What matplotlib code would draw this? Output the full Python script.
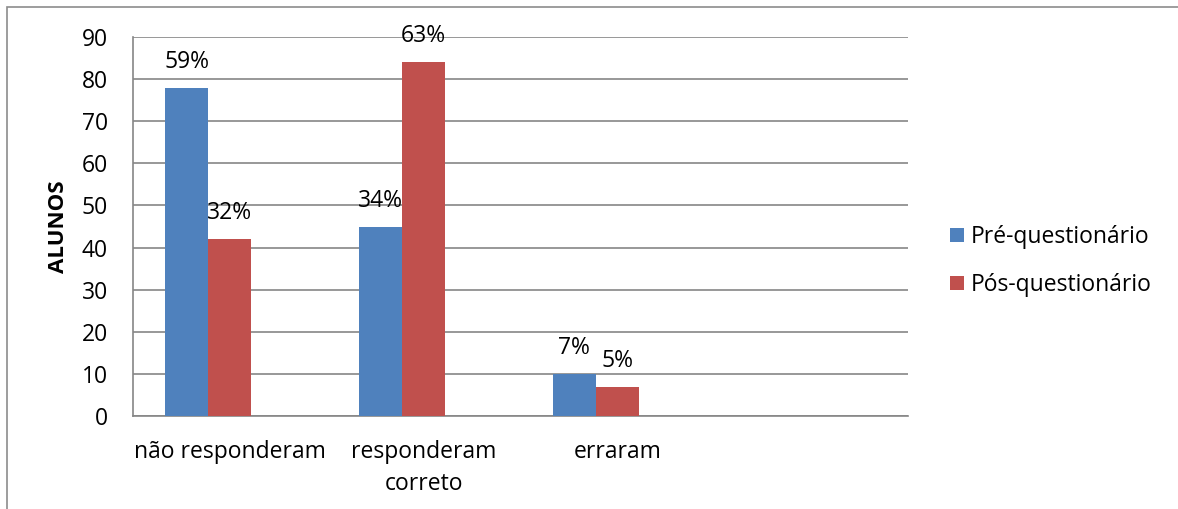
import matplotlib.pyplot as plt
import numpy as np
from matplotlib.patches import Rectangle

plt.rcParams['font.family'] = ['Open Sans', 'DejaVu Sans']

categories = ['não responderam', 'responderam\ncorreto', 'erraram', '']
pre = [78, 45, 10]
pos = [42, 84, 7]
pre_labels = ['59%', '34%', '7%']
pos_labels = ['32%', '63%', '5%']
series_names = ['Pré-questionário', 'Pós-questionário']

blue = '#4F81BD'
red = '#C0504D'
grid_col = '#868686'
fs = 16.5

fig = plt.figure(figsize=(11.78, 5.09), dpi=100)
ax = fig.add_axes([133 / 1178, 1 - 416 / 509, (908 - 133) / 1178, (416 - 37) / 509])

# outer chart border (cut off at right/bottom like the screenshot)
fig.patches.append(Rectangle((7 / 1178, -0.1), 1.2, 1 - 7 / 509 + 0.1,
                             transform=fig.transFigure, fill=False,
                             edgecolor='#8c8c8c', linewidth=1.2))

x = np.arange(len(pre))
w = 0.222
# excel leaves room for a third (empty) series, so the pair sits left of centre
b1 = ax.bar(x - w, pre, w, color=blue, label=series_names[0], zorder=3)
b2 = ax.bar(x, pos, w, color=red, label=series_names[1], zorder=3)

for bars, labs in ((b1, pre_labels), (b2, pos_labels)):
    for r, t in zip(bars, labs):
        ax.annotate(t, (r.get_x() + r.get_width() / 2, r.get_height()),
                    xytext=(0, 10), textcoords='offset points',
                    ha='center', va='bottom', fontsize=fs)

ax.set_xlim(-0.5, 3.5)
ax.set_ylim(0, 90)
ax.set_yticks(range(0, 91, 10))
ax.set_xticks(range(len(categories)))
ax.set_xticklabels(categories, fontsize=fs, linespacing=1.45)
ax.tick_params(axis='y', labelsize=fs, length=0, pad=18)
ax.tick_params(axis='x', length=0, pad=17)
ax.yaxis.grid(True, color=grid_col, linewidth=1.2, zorder=0)
for s in ['top', 'right']:
    ax.spines[s].set_visible(False)
for s in ['left', 'bottom']:
    ax.spines[s].set_color(grid_col)
    ax.spines[s].set_linewidth(1.2)

ax.set_ylabel('ALUNOS', fontsize=16, fontweight='bold', va='center')
ax.yaxis.set_label_coords(-0.0955, 0.5)

leg = ax.legend(loc='center left', bbox_to_anchor=(1.054, 0.409), frameon=False,
                fontsize=fs, handlelength=0.6, handleheight=0.6, handletextpad=0.3,
                labelspacing=1.05, borderaxespad=0, borderpad=0)
leg.set_zorder(5)

fig.savefig('out.png', dpi=100)
